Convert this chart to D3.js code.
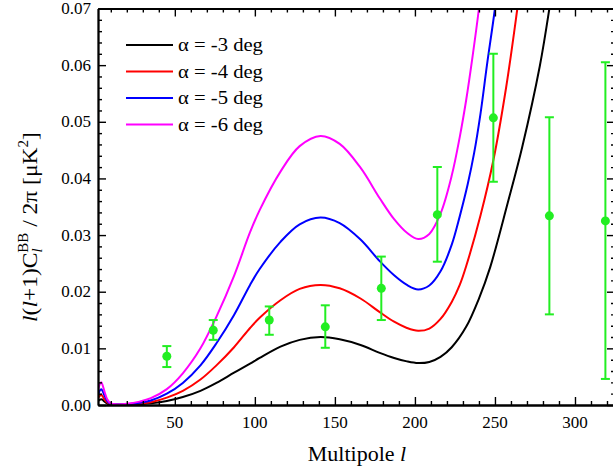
<!DOCTYPE html>
<html>
<head>
<meta charset="utf-8">
<script src="https://cdn.jsdelivr.net/npm/d3@7"></script>
<style>
  body { margin: 0; background: #fff; }
  svg { display: block; }
  text { font-family: "Liberation Serif", "Times New Roman", serif; }
</style>
</head>
<body>
<div id="chart"></div>
<script>
// shared multipole grid for the low-l part of every curve
const ellGrid = [2, 3, 4, 5, 6, 8, 10, 14, 20, 28, 35, 45, 55, 66, 76, 87, 97, 103, 116, 128, 141, 153, 166, 178, 187, 195, 202, 209, 216, 223];

const blackVals = [0.0007, 0.0009, 0.0010, 0.0009, 0.0006, 0.0002, 0.0001, 0.00003, 0.00005, 0.00015, 0.0003, 0.0007, 0.0014, 0.0025, 0.0039, 0.0057, 0.0073, 0.0083, 0.0103, 0.0115, 0.0120, 0.0116, 0.0106, 0.0092, 0.0083, 0.0077, 0.0074, 0.0076, 0.0085, 0.0102];
const redVals = [0.0012, 0.0016, 0.0018, 0.0015, 0.0010, 0.0004, 0.00015, 0.00005, 0.0001, 0.0003, 0.0005, 0.0013, 0.0025, 0.0045, 0.0070, 0.0102, 0.0136, 0.0154, 0.0185, 0.0205, 0.0212, 0.0206, 0.0188, 0.0164, 0.0147, 0.0136, 0.0131, 0.0135, 0.0152, 0.0182];
const blueVals = [0.0018, 0.0025, 0.0028, 0.0024, 0.0017, 0.0006, 0.0002, 0.00007, 0.00014, 0.0004, 0.0008, 0.0020, 0.0039, 0.0070, 0.0109, 0.0159, 0.0212, 0.0240, 0.0288, 0.0319, 0.0331, 0.0321, 0.0292, 0.0254, 0.0229, 0.0212, 0.0204, 0.0211, 0.0236, 0.0283];
const magentaVals = [0.0026, 0.0036, 0.0040, 0.0034, 0.0024, 0.0009, 0.0003, 0.0001, 0.0002, 0.0006, 0.0012, 0.0028, 0.0056, 0.0100, 0.0156, 0.0228, 0.0305, 0.0344, 0.0412, 0.0457, 0.0475, 0.0461, 0.0419, 0.0365, 0.0328, 0.0304, 0.0293, 0.0302, 0.0338, 0.0405];

// steep high-l tails (each curve leaves the top of the frame)
const blackTailEll = [232, 240, 247, 258, 267, 278, 284, 290];
const blackTailVals = [0.0138, 0.0188, 0.0243, 0.0357, 0.0455, 0.0598, 0.0700, 0.0820];
const redTailEll = [228, 232, 241, 249, 257, 264, 270];
const redTailVals = [0.0212, 0.0245, 0.0335, 0.0432, 0.0561, 0.0700, 0.0830];
const blueTailEll = [228, 233, 237, 241, 245, 250, 255];
const blueTailVals = [0.0333, 0.0390, 0.0445, 0.0515, 0.0600, 0.0700, 0.0820];
const magentaTailEll = [228, 232, 236, 240, 244];
const magentaTailVals = [0.0473, 0.0538, 0.0615, 0.0700, 0.0800];

const curveLabels = ['α = -3 deg', 'α = -4 deg', 'α = -5 deg', 'α = -6 deg'];
const curveColors = ['#000000', '#ff0000', '#0000ff', '#ff00ff'];

// binned measurements with error bars
const binEll = [45, 74, 109, 144, 179, 214, 249, 284, 319];
const binVals = [0.0086, 0.0132, 0.0150, 0.0138, 0.0206, 0.0336, 0.0507, 0.0334, 0.0325];
const binLow = [0.0067, 0.0115, 0.0124, 0.0101, 0.0150, 0.0253, 0.0394, 0.0160, 0.0046];
const binHigh = [0.0104, 0.0150, 0.0174, 0.0176, 0.0262, 0.0420, 0.0620, 0.0508, 0.0605];

const xTicks = [50, 100, 150, 200, 250, 300];
const yTicks = [0, 0.01, 0.02, 0.03, 0.04, 0.05, 0.06, 0.07];

const width = 613, height = 472;
const margin = {top: 8.5, right: -2, bottom: 67, left: 98};

const x = d3.scaleLinear().domain([2, 325]).range([margin.left, width - margin.right]);
const y = d3.scaleLinear().domain([0, 0.07]).range([height - margin.bottom, margin.top]);

const svg = d3.select('#chart').append('svg')
    .attr('width', width)
    .attr('height', height)
    .attr('viewBox', [0, 0, width, height]);

svg.append('clipPath').attr('id', 'plot-clip')
  .append('rect')
    .attr('x', x(2)).attr('y', y(0.07))
    .attr('width', x(325) - x(2)).attr('height', y(0) - y(0.07));

const series = [
    ellGrid.map((l, i) => [l, blackVals[i]]).concat(blackTailEll.map((l, i) => [l, blackTailVals[i]])),
    ellGrid.map((l, i) => [l, redVals[i]]).concat(redTailEll.map((l, i) => [l, redTailVals[i]])),
    ellGrid.map((l, i) => [l, blueVals[i]]).concat(blueTailEll.map((l, i) => [l, blueTailVals[i]])),
    ellGrid.map((l, i) => [l, magentaVals[i]]).concat(magentaTailEll.map((l, i) => [l, magentaTailVals[i]]))
];

const line = d3.line()
    .curve(d3.curveCatmullRom.alpha(0.5))
    .x(d => x(d[0]))
    .y(d => y(d[1]));

const plot = svg.append('g').attr('clip-path', 'url(#plot-clip)');

series.forEach((s, i) => {
    plot.append('path')
        .datum(s)
        .attr('fill', 'none')
        .attr('stroke', curveColors[i])
        .attr('stroke-width', 2)
        .attr('stroke-linejoin', 'round')
        .attr('d', line);
});

// error bars
const green = '#22ee22';
const bars = plot.append('g').selectAll('g')
    .data(binEll.map((l, i) => ({l, v: binVals[i], lo: binLow[i], hi: binHigh[i]})))
    .join('g');

bars.append('line')
    .attr('x1', d => x(d.l)).attr('x2', d => x(d.l))
    .attr('y1', d => y(d.lo)).attr('y2', d => y(d.hi))
    .attr('stroke', green).attr('stroke-width', 2);
bars.append('line')
    .attr('x1', d => x(d.l) - 4.5).attr('x2', d => x(d.l) + 4.5)
    .attr('y1', d => y(d.hi)).attr('y2', d => y(d.hi))
    .attr('stroke', green).attr('stroke-width', 2);
bars.append('line')
    .attr('x1', d => x(d.l) - 4.5).attr('x2', d => x(d.l) + 4.5)
    .attr('y1', d => y(d.lo)).attr('y2', d => y(d.lo))
    .attr('stroke', green).attr('stroke-width', 2);
bars.append('circle')
    .attr('cx', d => x(d.l)).attr('cy', d => y(d.v))
    .attr('r', 4.5)
    .attr('fill', green);

// axes: major + minor ticks pointing inward on all four sides
const xMinor = d3.range(10, 330, 10).filter(v => v % 50 !== 0);
const yMinor = d3.range(0, 0.0701, 0.002).filter(v => Math.abs(v / 0.01 - Math.round(v / 0.01)) > 1e-6);

const axisStyle = g => {
    g.selectAll('.domain').attr('stroke-width', 1.8);
    g.selectAll('.tick line').attr('stroke-width', 1.4);
};

const sides = [
    [d3.axisTop, x, `translate(0,${y(0)})`],
    [d3.axisBottom, x, `translate(0,${y(0.07)})`],
    [d3.axisRight, y, `translate(${x(2)},0)`],
    [d3.axisLeft, y, `translate(${x(325)},0)`]
];
sides.forEach(([axisFn, scale, tr]) => {
    const major = scale === x ? xTicks : yTicks;
    const minor = scale === x ? xMinor : yMinor;
    svg.append('g').attr('transform', tr)
        .call(axisFn(scale).tickValues(minor).tickSize(4).tickFormat('').tickSizeOuter(0))
        .call(axisStyle);
    svg.append('g').attr('transform', tr)
        .call(axisFn(scale).tickValues(major).tickSize(8).tickFormat('').tickSizeOuter(0))
        .call(axisStyle);
});

// tick labels
svg.append('g').selectAll('text')
    .data(xTicks)
    .join('text')
    .attr('x', d => x(d))
    .attr('y', 428)
    .attr('text-anchor', 'middle')
    .attr('font-size', 17)
    .text(d => d);

svg.append('g').selectAll('text')
    .data(yTicks)
    .join('text')
    .attr('x', 91)
    .attr('y', d => y(d) + 5.5)
    .attr('text-anchor', 'end')
    .attr('font-size', 17)
    .text(d => d3.format('.2f')(d));

// axis titles
const xTitle = svg.append('text')
    .attr('x', 357)
    .attr('y', 461)
    .attr('text-anchor', 'middle')
    .attr('font-size', 22);
xTitle.append('tspan').text('Multipole ');
xTitle.append('tspan').attr('font-style', 'italic').text('l');

// y title is drawn flat, measured, then fitted to the reference length
const yTitleG = svg.append('g');
const yTitle = yTitleG.append('text')
    .attr('font-size', 22);
yTitle.append('tspan').attr('font-style', 'italic').text('l');
yTitle.append('tspan').text('(');
yTitle.append('tspan').attr('font-style', 'italic').text('l');
yTitle.append('tspan').text('+1)C');
yTitle.append('tspan').attr('font-style', 'italic').attr('font-size', 14).attr('dy', 5).text('l');
yTitle.append('tspan').attr('font-size', 14).attr('dx', -4).attr('dy', -14).text('BB');
yTitle.append('tspan').attr('dy', 9).text(' / 2π [μK');
yTitle.append('tspan').attr('font-size', 14).attr('dy', -9).text('2');
yTitle.append('tspan').attr('dy', 9).text(']');
const yTitleW = yTitle.node().getBBox().width;
yTitleG.attr('transform', `translate(37,322) rotate(-90) scale(${190 / yTitleW},1)`);

// legend
const legend = svg.append('g');
curveLabels.forEach((label, i) => {
    const ly = 45 + i * 26.5;
    legend.append('line')
        .attr('x1', 126).attr('x2', 173)
        .attr('y1', ly).attr('y2', ly)
        .attr('stroke', curveColors[i])
        .attr('stroke-width', 2);
    const tg = legend.append('g');
    const t = tg.append('text')
        .attr('font-size', 18)
        .text(label);
    const w = t.node().getBBox().width;
    tg.attr('transform', `translate(178,${ly + 6}) scale(${85 / w},1)`);
});
</script>
</body>
</html>
